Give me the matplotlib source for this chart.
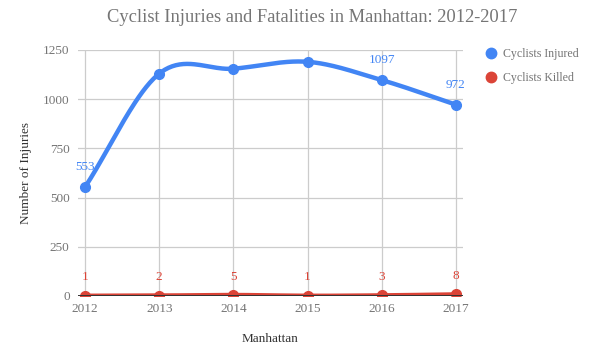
import numpy as np
import matplotlib
matplotlib.use("Agg")
import matplotlib.pyplot as plt
from matplotlib.lines import Line2D

years = [2012, 2013, 2014, 2015, 2016, 2017]
injured = [553, 1130, 1155, 1190, 1097, 972]
killed = [1, 2, 5, 1, 3, 8]
# Google hides some labels on the injured line
injured_labels = ["553", None, None, None, "1097", "972"]
killed_labels = ["1", "2", "5", "1", "3", "8"]
series_names = ["Cyclists Injured", "Cyclists Killed"]
yticks = [0, 250, 500, 750, 1000, 1250]

BLUE = "#4285F4"
RED = "#DB4437"
GREY = "#757575"
FONT = "Liberation Serif"

plt.rcParams["font.family"] = [FONT, "DejaVu Serif"]


def smooth(x, y, n=40):
    """cubic hermite curve through the points (catmull-rom tangents)"""
    x = np.asarray(x, float)
    y = np.asarray(y, float)
    m = np.zeros_like(y)
    m[1:-1] = (y[2:] - y[:-2]) / (x[2:] - x[:-2])
    m[0] = (y[1] - y[0]) / (x[1] - x[0])
    m[-1] = (y[-1] - y[-2]) / (x[-1] - x[-2])
    xs, ys = [], []
    for i in range(len(x) - 1):
        h = x[i + 1] - x[i]
        t = np.linspace(0, 1, n, endpoint=(i == len(x) - 2))
        h00 = 2 * t**3 - 3 * t**2 + 1
        h10 = t**3 - 2 * t**2 + t
        h01 = -2 * t**3 + 3 * t**2
        h11 = t**3 - t**2
        xs.append(x[i] + t * h)
        ys.append(h00 * y[i] + h10 * h * m[i] + h01 * y[i + 1] + h11 * h * m[i + 1])
    return np.concatenate(xs), np.concatenate(ys)


fig = plt.figure(figsize=(5.97, 3.58), dpi=100)
W, H = 597, 358
ax = fig.add_axes([78 / W, 1 - 296 / H, (463 - 78) / W, (296 - 50) / H])

pad = 7 / 74.2
ax.set_xlim(years[0] - pad, years[-1] + pad)
ax.set_ylim(0, 1250)

for s in ax.spines.values():
    s.set_visible(False)
ax.set_yticks(yticks)
ax.set_xticks(years)
ax.tick_params(length=0, colors=GREY, labelsize=9.5)
ax.tick_params(axis="y", pad=6)
ax.tick_params(axis="x", pad=5)
ax.grid(True, color="#cccccc", lw=0.9)
ax.set_axisbelow(True)
ax.axhline(0, color="#333333", lw=1.4, zorder=5)

# injured: full markers, killed: markers cut by the baseline like in the sheet
for vals, col, clip in [(injured, BLUE, False), (killed, RED, True)]:
    sx, sy = smooth(years, vals)
    ax.plot(sx, sy, color=col, lw=3.2, solid_capstyle="round", zorder=3, clip_on=clip)
    ax.plot(years, vals, "o", color=col, ms=7, zorder=4, clip_on=clip)

for xv, yv, lab in zip(years, injured, injured_labels):
    if lab:
        ax.annotate(lab, (xv, yv), xytext=(0, 10), textcoords="offset points",
                    ha="center", va="bottom", color=BLUE, fontsize=9.5)
for xv, yv, lab in zip(years, killed, killed_labels):
    ax.annotate(lab, (xv, yv), xytext=(0, 9), textcoords="offset points",
                ha="center", va="bottom", color=RED, fontsize=9.5)

ax.set_ylabel("Number of Injuries", color="#333333", fontsize=9.5, labelpad=8)
ax.set_xlabel("Manhattan", color="#333333", fontsize=9.5, labelpad=13)

fig.text(312.5 / W, 1 - 18 / H, "Cyclist Injuries and Fatalities in Manhattan: 2012-2017",
         ha="center", va="center", color=GREY, fontsize=13.3)

handles = [Line2D([], [], ls="", marker="o", color=c, ms=7.5) for c in (BLUE, RED)]
fig.legend(handles, series_names, loc="upper left", bbox_to_anchor=(480 / W, 1 - 43 / H),
           frameon=False, fontsize=8.6, labelcolor=GREY, handlelength=1.0,
           handletextpad=0.55, labelspacing=1.05, borderaxespad=0)

fig.savefig("out.png", dpi=100)
